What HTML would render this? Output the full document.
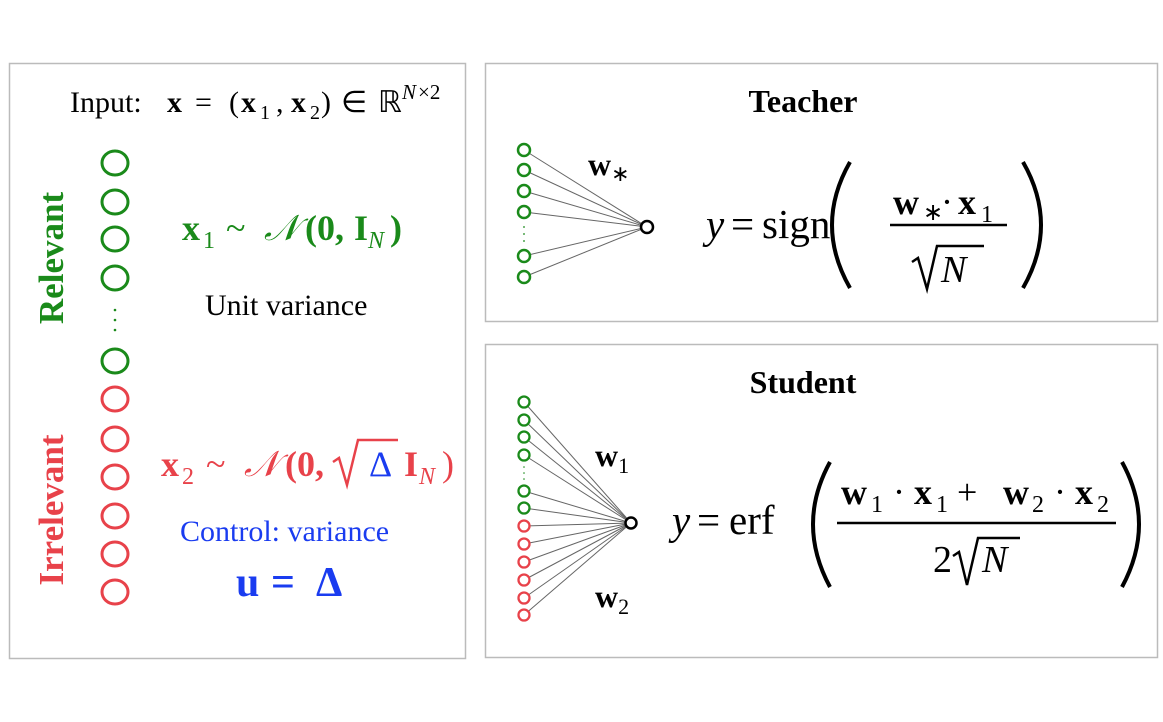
<!DOCTYPE html>
<html><head><meta charset="utf-8"><style>
body{margin:0;background:#fff}
svg{display:block}
text{font-family:"Liberation Serif",serif}
</style></head><body>
<svg width="1163" height="722" viewBox="0 0 1163 722" xmlns="http://www.w3.org/2000/svg">
<rect x="9.5" y="63.5" width="456" height="595" fill="none" stroke="#bbb" stroke-width="1.5"/>
<rect x="485.5" y="63.5" width="672" height="258" fill="none" stroke="#bbb" stroke-width="1.5"/>
<rect x="485.5" y="344.5" width="672" height="313" fill="none" stroke="#bbb" stroke-width="1.5"/>

<!-- left panel: input line -->
<g font-size="30">
<text x="70" y="112">Input:</text>
<text x="167" y="112" font-weight="bold">x</text>
<text x="195" y="112">=</text>
<text x="229" y="112">(</text>
<text x="241" y="112" font-weight="bold">x</text>
<text x="260" y="119" font-size="20">1</text>
<text x="276" y="112">,</text>
<text x="291" y="112" font-weight="bold">x</text>
<text x="310" y="119" font-size="20">2</text>
<text x="321" y="112">)</text>
<text x="341" y="112">∈</text>
<text x="378" y="112">ℝ</text>
<text x="402" y="99" font-size="21" font-style="italic">N</text>
<text x="418" y="99" font-size="21">×2</text>
</g>

<g fill="none" stroke="#1a8a1a" stroke-width="3">
<ellipse cx="115" cy="163" rx="13" ry="12"/><ellipse cx="115" cy="202" rx="13" ry="12"/>
<ellipse cx="115" cy="239" rx="13" ry="12"/><ellipse cx="115" cy="278" rx="13" ry="12"/>
<ellipse cx="115" cy="361" rx="13" ry="12"/>
</g>
<g fill="#1a8a1a"><circle cx="115" cy="310" r="1.3"/><circle cx="115" cy="320" r="1.3"/><circle cx="115" cy="330" r="1.3"/></g>
<g fill="none" stroke="#e8424a" stroke-width="3">
<ellipse cx="115" cy="399" rx="13" ry="12"/><ellipse cx="115" cy="439" rx="13" ry="12"/>
<ellipse cx="115" cy="477" rx="13" ry="12"/><ellipse cx="115" cy="516" rx="13" ry="12"/>
<ellipse cx="115" cy="554" rx="13" ry="12"/><ellipse cx="115" cy="592" rx="13" ry="12"/>
</g>
<text transform="translate(63,258) rotate(-90)" text-anchor="middle" font-size="35" font-weight="bold" fill="#1a8a1a">Relevant</text>
<text transform="translate(63,510) rotate(-90)" text-anchor="middle" font-size="35" font-weight="bold" fill="#e8424a">Irrelevant</text>

<!-- x1 line -->
<g font-size="36" fill="#1a8a1a">
<text x="182" y="240" font-weight="bold">x</text>
<text x="203" y="248" font-size="24">1</text>
<text x="226" y="240">~</text>
<text x="264" y="240" font-style="italic">𝒩</text>
<text x="305" y="240" font-weight="bold">(0,</text>
<text x="354" y="240" font-weight="bold">I</text>
<text x="368" y="248" font-size="24" font-style="italic">N</text>
<text x="390" y="240" font-weight="bold">)</text>
</g>
<text x="205" y="315" font-size="30">Unit variance</text>

<!-- x2 line -->
<g font-size="36" fill="#e8424a">
<text x="161" y="476" font-weight="bold">x</text>
<text x="182" y="484" font-size="24">2</text>
<text x="206" y="476">~</text>
<text x="244" y="476" font-style="italic">𝒩</text>
<text x="285" y="476" font-weight="bold">(0,</text>
<text x="404" y="476" font-weight="bold">I</text>
<text x="419" y="484" font-size="24" font-style="italic">N</text>
<text x="442" y="476">)</text>
</g>
<path d="M333 462 L339 458 L347 485 L358 440 L398 440" fill="none" stroke="#e8424a" stroke-width="2.5"/>
<text x="369" y="476" font-size="36" fill="#1a3cf0">Δ</text>
<text x="180" y="541" font-size="30" fill="#1a3cf0">Control: variance</text>
<g font-size="42" font-weight="bold" fill="#1a3cf0">
<text x="236" y="596">u</text><text x="271" y="596">=</text><text x="316" y="596">Δ</text>
</g>

<!-- teacher -->
<text x="803" y="112" font-size="32" font-weight="bold" text-anchor="middle">Teacher</text>
<g stroke="#666" stroke-width="1">
<line x1="524" y1="150" x2="647" y2="227"/><line x1="524" y1="170" x2="647" y2="227"/>
<line x1="524" y1="191" x2="647" y2="227"/><line x1="524" y1="212" x2="647" y2="227"/>
<line x1="524" y1="256" x2="647" y2="227"/><line x1="524" y1="277" x2="647" y2="227"/>
</g>
<g fill="#fff" stroke="#1a8a1a" stroke-width="2.5">
<circle cx="524" cy="150" r="6"/><circle cx="524" cy="170" r="6"/><circle cx="524" cy="191" r="6"/>
<circle cx="524" cy="212" r="6"/><circle cx="524" cy="256" r="6"/><circle cx="524" cy="277" r="6"/>
</g>
<g fill="#1a8a1a"><circle cx="524" cy="227" r="0.9"/><circle cx="524" cy="234" r="0.9"/><circle cx="524" cy="241" r="0.9"/></g>
<circle cx="647" cy="227" r="6" fill="#fff" stroke="#000" stroke-width="2.5"/>
<text x="588" y="175" font-size="32" font-weight="bold">w<tspan font-size="22" font-weight="normal" dy="6">∗</tspan></text>
<g font-size="41">
<text x="706" y="238" font-style="italic">y</text>
<text x="731" y="238">=</text>
<text x="762" y="238">sign</text>
</g>
<path d="M850 162 Q814 225 850 288" fill="none" stroke="#000" stroke-width="4"/>
<path d="M1023 162 Q1059 225 1023 288" fill="none" stroke="#000" stroke-width="4"/>
<g font-size="36">
<text x="893" y="214" font-weight="bold">w</text>
<text x="923" y="220" font-size="24">∗</text>
<text x="941" y="214">·</text>
<text x="958" y="214" font-weight="bold">x</text>
<text x="981" y="222" font-size="24">1</text>
</g>
<line x1="890" y1="225" x2="1007" y2="225" stroke="#000" stroke-width="2.5"/>
<path d="M912 262 L918 258 L927 289 L937 246 L984 246" fill="none" stroke="#000" stroke-width="2.5"/>
<text x="941" y="282" font-size="38" font-style="italic">N</text>

<!-- student -->
<text x="803" y="393" font-size="32" font-weight="bold" text-anchor="middle">Student</text>
<g stroke="#666" stroke-width="1">
<line x1="524" y1="402" x2="631" y2="523"/><line x1="524" y1="420" x2="631" y2="523"/>
<line x1="524" y1="437" x2="631" y2="523"/><line x1="524" y1="455" x2="631" y2="523"/>
<line x1="524" y1="491" x2="631" y2="523"/><line x1="524" y1="508" x2="631" y2="523"/>
<line x1="524" y1="526" x2="631" y2="523"/><line x1="524" y1="544" x2="631" y2="523"/>
<line x1="524" y1="562" x2="631" y2="523"/><line x1="524" y1="580" x2="631" y2="523"/>
<line x1="524" y1="598" x2="631" y2="523"/><line x1="524" y1="615" x2="631" y2="523"/>
</g>
<g fill="#fff" stroke="#1a8a1a" stroke-width="2.3">
<circle cx="524" cy="402" r="5.5"/><circle cx="524" cy="420" r="5.5"/><circle cx="524" cy="437" r="5.5"/>
<circle cx="524" cy="455" r="5.5"/><circle cx="524" cy="491" r="5.5"/><circle cx="524" cy="508" r="5.5"/>
</g>
<g fill="#1a8a1a"><circle cx="524" cy="467" r="0.8"/><circle cx="524" cy="473" r="0.8"/><circle cx="524" cy="479" r="0.8"/></g>
<g fill="#fff" stroke="#e8424a" stroke-width="2.3">
<circle cx="524" cy="526" r="5.5"/><circle cx="524" cy="544" r="5.5"/><circle cx="524" cy="562" r="5.5"/>
<circle cx="524" cy="580" r="5.5"/><circle cx="524" cy="598" r="5.5"/><circle cx="524" cy="615" r="5.5"/>
</g>
<circle cx="631" cy="523" r="5.5" fill="#fff" stroke="#000" stroke-width="2.5"/>
<text x="595" y="466" font-size="32" font-weight="bold">w<tspan font-size="22" font-weight="normal" dy="7">1</tspan></text>
<text x="595" y="607" font-size="32" font-weight="bold">w<tspan font-size="22" font-weight="normal" dy="7">2</tspan></text>
<g font-size="41">
<text x="672" y="534" font-style="italic">y</text>
<text x="697" y="534">=</text>
<text x="729" y="534">erf</text>
</g>
<path d="M830 462 Q796 524 830 587" fill="none" stroke="#000" stroke-width="4"/>
<path d="M1122 462 Q1156 524 1122 587" fill="none" stroke="#000" stroke-width="4"/>
<g font-size="36">
<text x="841" y="504" font-weight="bold">w</text>
<text x="871" y="512" font-size="24">1</text>
<text x="893" y="504">·</text>
<text x="914" y="504" font-weight="bold">x</text>
<text x="936" y="512" font-size="24">1</text>
<text x="957" y="504">+</text>
<text x="1003" y="504" font-weight="bold">w</text>
<text x="1032" y="512" font-size="24">2</text>
<text x="1054" y="504">·</text>
<text x="1075" y="504" font-weight="bold">x</text>
<text x="1097" y="512" font-size="24">2</text>
</g>
<line x1="837" y1="523" x2="1116" y2="523" stroke="#000" stroke-width="2.5"/>
<text x="933" y="572" font-size="38">2</text>
<path d="M953 556 L959 552 L967 585 L978 538 L1020 538" fill="none" stroke="#000" stroke-width="2.5"/>
<text x="982" y="572" font-size="38" font-style="italic">N</text>
</svg>
</body></html>
